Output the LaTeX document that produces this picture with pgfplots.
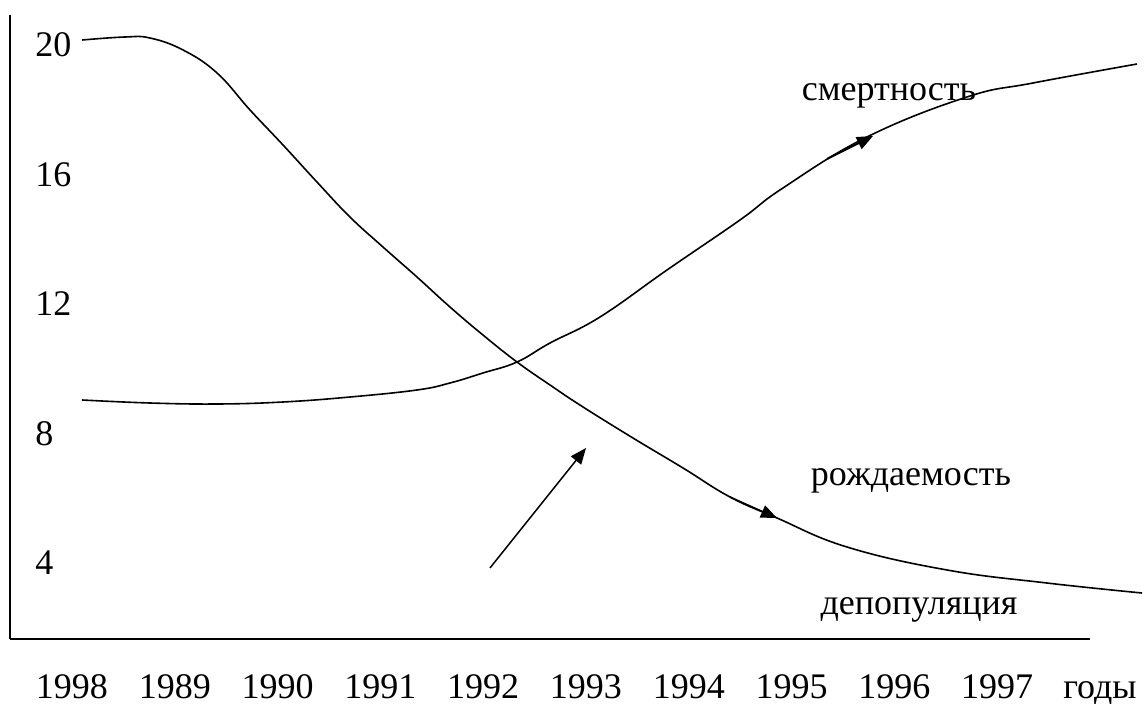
\documentclass[border=0pt]{standalone}
\usepackage{fontspec}
\setmainfont{Liberation Serif}
\usepackage{pgfplots}
\pgfplotsset{compat=1.18}
\usetikzlibrary{arrows.meta}
\begin{document}
\fontsize{18pt}{21pt}\selectfont
\begin{tikzpicture}[x=1pt,y=1pt]
\useasboundingbox (0,0) rectangle (574,352);
\begin{axis}[
  at={(5pt,32.5pt)}, anchor=south west,
  scale only axis, width=547.56pt, height=312pt,
  xmin=-0.603, xmax=10.05, ymin=1.653, ymax=20.927,
  axis x line=bottom, axis y line=left,
  axis line style={-, line width=1.2pt},
  x axis line style={shorten >=7.5pt},
  xtick={0,1,2,3,4,5,6,7,8,9,10},
  xticklabels={1998,1989,1990,1991,1992,1993,1994,1995,1996,1997,годы},
  ytick={4,8,12,16,20},
  major tick length=0pt,
  tick style={draw=none},
  xticklabel style={anchor=base, yshift=-30pt},
  yticklabel style={anchor=west, xshift=6.5pt},
  /pgf/number format/assume math mode=true,
  ticklabel style={font=\fontsize{18pt}{21pt}\selectfont},
  clip=false,
]
% рождаемость (falling)
\addplot[black, line width=0.8pt, smooth, tension=0.7] coordinates {
(0.097,20.154) (0.516,20.247) (0.759,20.216) (1.080,19.846) (1.411,19.135)
(1.732,17.992) (2.053,16.911) (2.383,15.768) (2.704,14.687) (3.025,13.761)
(3.356,12.834) (3.677,11.907) (3.998,11.042) (4.329,10.208) (4.650,9.498)
(4.971,8.819) (5.457,7.861) (5.944,6.934) (6.401,6.039) (6.858,5.390)
(7.539,4.494) (8.512,3.784) (9.484,3.382) (10.409,3.073)
};
% смертность (rising)
\addplot[black, line width=0.8pt, smooth, tension=0.7] coordinates {
(0.097,9.035) (0.759,8.942) (1.411,8.911) (2.053,8.973) (2.704,9.127)
(3.356,9.344) (3.677,9.560) (3.998,9.869) (4.329,10.208) (4.650,10.795)
(5.136,11.598) (5.788,13.050) (6.498,14.595) (6.916,15.583) (7.733,17.158)
(8.706,18.394) (9.348,18.826) (10.360,19.413)
};
% arrows
\addplot[black, line width=0.75pt, -{Triangle[length=8pt,width=6.5pt]}] coordinates {(4.066,3.846) (5.0,7.552)};
\addplot[black, line width=1pt, -{Triangle[length=8pt,width=6.5pt]}] coordinates {(7.344,16.479) (7.792,17.189)};
\addplot[black, line width=0.75pt, -{Triangle[length=8pt,width=6.5pt]}] coordinates {(6.401,6.039) (6.858,5.390)};
\node[anchor=base, inner sep=0pt] at (axis cs:7.947,18.301) {смертность};
\node[anchor=base, inner sep=0pt] at (axis cs:8.161,6.409) {рождаемость};
\node[anchor=base, inner sep=0pt] at (axis cs:8.239,2.394) {депопуляция};
\end{axis}
\end{tikzpicture}
\end{document}
